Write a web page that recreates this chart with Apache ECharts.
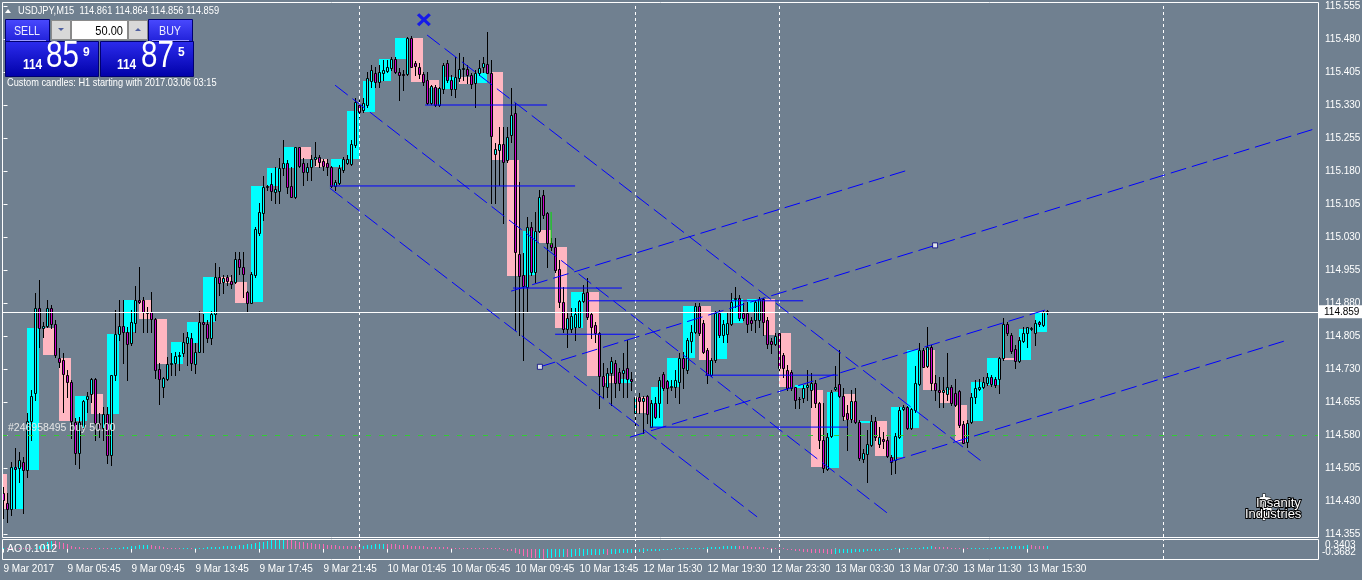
<!DOCTYPE html>
<html><head><meta charset="utf-8">
<script src="https://cdn.jsdelivr.net/npm/echarts@6/dist/echarts.min.js"></script>
<style>html,body{margin:0;padding:0;background:#708090;}#c{width:1362px;height:580px;}</style>
</head><body><div id="c"></div>
<script>
const FONT = '"Liberation Sans",Arial,sans-serif';

const timeLabels = ['9 Mar 2017','9 Mar 05:45','9 Mar 09:45','9 Mar 13:45','9 Mar 17:45','9 Mar 21:45','10 Mar 01:45','10 Mar 05:45','10 Mar 09:45','10 Mar 13:45','12 Mar 15:30','12 Mar 19:30','12 Mar 23:30','13 Mar 03:30','13 Mar 07:30','13 Mar 11:30','13 Mar 15:30'];
const timeLabelBars = [0,16,32,48,64,80,96,112,128,144,160,176,192,208,224,240,256];
const separatorBars = [89,158,194,290];
const priceTicks = [114.355,114.430,114.505,114.580,114.655,114.730,114.805,114.880,114.955,115.030,115.105,115.180,115.255,115.330,115.405,115.480,115.555];

const m15Open = [
114.448,114.425,114.412,114.507,114.505,114.519,114.500,114.612,114.675,114.869,
114.823,114.828,114.869,114.832,114.755,114.750,114.716,114.700,114.610,114.539,
114.596,114.662,114.673,114.707,114.607,114.596,114.628,114.535,114.716,114.810,
114.828,114.814,114.789,114.835,114.887,114.887,114.860,114.860,114.844,114.730,
114.689,114.707,114.741,114.744,114.759,114.766,114.789,114.800,114.741,114.768,
114.837,114.832,114.800,114.855,114.939,114.928,114.939,114.930,114.928,114.980,
114.962,114.905,114.880,114.944,115.039,115.084,115.144,115.150,115.132,115.134,
115.187,115.198,115.146,115.121,115.234,115.198,115.178,115.189,115.207,115.212,
115.203,115.198,115.189,115.146,115.153,115.182,115.198,115.196,115.239,115.330,
115.319,115.330,115.384,115.403,115.382,115.403,115.407,115.414,115.434,115.405,
115.400,115.400,115.482,115.425,115.416,115.400,115.387,115.334,115.371,115.330,
115.366,115.425,115.387,115.366,115.391,115.412,115.412,115.398,115.380,115.403,
115.416,115.423,115.403,115.218,115.228,115.241,115.205,115.262,115.312,114.991,
114.944,114.916,115.053,114.951,115.044,115.125,115.084,115.016,115.007,114.957,
114.882,114.821,114.821,114.825,114.825,114.885,114.905,114.855,114.830,114.812,
114.714,114.689,114.721,114.744,114.723,114.721,114.732,114.707,114.630,114.666,
114.657,114.669,114.598,114.653,114.653,114.719,114.703,114.689,114.689,114.700,
114.755,114.728,114.794,114.814,114.873,114.835,114.773,114.716,114.750,114.857,
114.807,114.810,114.832,114.889,114.891,114.857,114.857,114.841,114.841,114.841,
114.889,114.841,114.794,114.787,114.812,114.762,114.728,114.723,114.689,114.662,
114.664,114.689,114.682,114.698,114.653,114.569,114.503,114.578,114.684,114.696,
114.669,114.630,114.616,114.657,114.610,114.525,114.537,114.557,114.612,114.559,
114.571,114.569,114.530,114.523,114.575,114.639,114.644,114.596,114.637,114.696,
114.773,114.737,114.780,114.698,114.682,114.678,114.673,114.689,114.675,114.680,
114.605,114.564,114.610,114.666,114.684,114.689,114.698,114.712,114.707,114.707,
114.755,114.832,114.807,114.775,114.748,114.794,114.812,114.821,114.812,114.837,
114.830,114.861];
const m15High = [
114.462,114.448,114.519,114.550,114.541,114.530,114.630,114.682,114.903,114.932,
114.837,114.887,114.875,114.841,114.778,114.766,114.728,114.705,114.619,114.621,
114.660,114.678,114.710,114.710,114.630,114.644,114.644,114.591,114.864,114.887,
114.887,114.825,114.864,114.919,114.962,114.894,114.871,114.905,114.846,114.744,
114.712,114.757,114.766,114.768,114.768,114.812,114.814,114.812,114.789,114.862,
114.855,114.841,114.862,114.971,114.962,114.944,114.944,114.944,114.996,114.996,
114.996,114.907,114.951,115.052,115.107,115.169,115.148,115.175,115.189,115.209,
115.250,115.205,115.189,115.234,115.234,115.209,115.198,115.216,115.246,115.216,
115.207,115.207,115.191,115.160,115.194,115.212,115.216,115.250,115.346,115.341,
115.346,115.405,115.421,115.416,115.421,115.432,115.432,115.439,115.439,115.414,
115.410,115.485,115.487,115.430,115.425,115.405,115.405,115.375,115.375,115.371,
115.425,115.432,115.398,115.439,115.448,115.439,115.421,115.403,115.410,115.432,
115.439,115.496,115.432,115.243,115.280,115.280,115.280,115.369,115.334,115.155,
114.994,115.075,115.064,115.087,115.137,115.137,115.087,115.028,115.028,114.978,
114.916,114.857,114.869,114.869,114.887,114.921,114.937,114.860,114.837,114.814,
114.744,114.732,114.757,114.750,114.732,114.766,114.796,114.723,114.666,114.675,
114.669,114.671,114.660,114.666,114.712,114.723,114.705,114.705,114.728,114.766,
114.768,114.800,114.830,114.880,114.880,114.841,114.778,114.755,114.862,114.864,
114.841,114.857,114.903,114.916,114.898,114.880,114.882,114.848,114.887,114.894,
114.891,114.848,114.800,114.812,114.814,114.766,114.739,114.728,114.689,114.666,
114.694,114.728,114.721,114.705,114.655,114.653,114.585,114.682,114.737,114.773,
114.687,114.648,114.682,114.687,114.614,114.548,114.591,114.625,114.621,114.598,
114.587,114.575,114.535,114.585,114.644,114.648,114.646,114.641,114.737,114.789,
114.778,114.825,114.785,114.716,114.712,114.712,114.766,114.694,114.707,114.682,
114.612,114.614,114.675,114.705,114.707,114.712,114.721,114.716,114.712,114.757,
114.846,114.837,114.812,114.785,114.803,114.825,114.825,114.825,114.841,114.839,
114.862,114.864];
const m15Low = [
114.391,114.382,114.398,114.414,114.473,114.403,114.485,114.569,114.660,114.780,
114.803,114.825,114.823,114.757,114.735,114.632,114.666,114.573,114.514,114.505,
114.591,114.632,114.655,114.569,114.575,114.569,114.516,114.512,114.705,114.796,
114.744,114.705,114.785,114.814,114.880,114.814,114.814,114.814,114.710,114.650,
114.666,114.705,114.716,114.716,114.728,114.759,114.739,114.728,114.721,114.768,
114.768,114.791,114.787,114.841,114.898,114.903,114.921,114.914,114.925,114.946,
114.894,114.860,114.880,114.939,115.034,115.069,115.137,115.114,115.107,115.107,
115.171,115.130,115.121,115.119,115.189,115.148,115.160,115.160,115.194,115.189,
115.182,115.171,115.144,115.137,115.150,115.178,115.196,115.194,115.234,115.303,
115.314,115.325,115.371,115.371,115.371,115.387,115.405,115.410,115.403,115.341,
115.364,115.398,115.416,115.398,115.391,115.375,115.332,115.332,115.328,115.328,
115.357,115.382,115.353,115.348,115.384,115.387,115.380,115.369,115.325,115.398,
115.405,115.403,115.107,115.107,115.148,115.062,115.200,115.246,114.819,114.807,
114.750,114.860,114.944,114.928,115.041,115.073,114.962,115.000,114.951,114.871,
114.814,114.780,114.814,114.796,114.825,114.882,114.844,114.800,114.791,114.641,
114.666,114.666,114.648,114.666,114.682,114.666,114.666,114.682,114.602,114.630,
114.585,114.607,114.598,114.619,114.621,114.682,114.653,114.682,114.666,114.653,
114.687,114.721,114.768,114.812,114.807,114.766,114.698,114.714,114.746,114.803,
114.791,114.791,114.830,114.871,114.841,114.841,114.814,114.819,114.814,114.825,
114.807,114.778,114.766,114.785,114.728,114.712,114.682,114.682,114.641,114.641,
114.655,114.660,114.644,114.644,114.550,114.496,114.500,114.575,114.682,114.666,
114.614,114.546,114.610,114.607,114.523,114.519,114.473,114.555,114.569,114.553,
114.550,114.530,114.491,114.494,114.573,114.637,114.594,114.594,114.632,114.694,
114.735,114.735,114.682,114.660,114.644,114.644,114.660,114.648,114.646,114.598,
114.562,114.553,114.607,114.653,114.682,114.687,114.694,114.691,114.689,114.675,
114.750,114.807,114.766,114.732,114.746,114.791,114.780,114.819,114.785,114.828,
114.828,114.856];
const m15Close = [
114.432,114.412,114.507,114.503,114.523,114.500,114.612,114.669,114.869,114.823,
114.828,114.869,114.832,114.762,114.746,114.719,114.700,114.612,114.539,114.610,
114.657,114.669,114.707,114.607,114.596,114.628,114.535,114.716,114.810,114.828,
114.814,114.787,114.837,114.887,114.882,114.860,114.857,114.844,114.728,114.707,
114.710,114.741,114.744,114.759,114.762,114.791,114.803,114.744,114.768,114.837,
114.832,114.800,114.855,114.939,114.925,114.937,114.930,114.923,114.980,114.962,
114.946,114.880,114.946,115.048,115.087,115.144,115.146,115.134,115.139,115.187,
115.198,115.144,115.121,115.234,115.191,115.178,115.189,115.207,115.212,115.200,
115.191,115.189,115.146,115.155,115.187,115.207,115.207,115.241,115.337,115.314,
115.334,115.391,115.410,115.382,115.405,115.410,115.416,115.434,115.405,115.398,
115.399,115.482,115.416,115.419,115.400,115.382,115.334,115.373,115.330,115.369,
115.421,115.387,115.366,115.394,115.412,115.414,115.398,115.378,115.403,115.414,
115.425,115.403,115.260,115.230,115.241,115.200,115.257,115.307,114.996,114.941,
114.919,115.053,114.951,115.044,115.121,115.080,115.016,115.007,114.955,114.882,
114.821,114.846,114.850,114.855,114.885,114.903,114.848,114.825,114.812,114.714,
114.691,114.721,114.748,114.698,114.698,114.728,114.707,114.703,114.666,114.657,
114.664,114.628,114.653,114.621,114.705,114.687,114.687,114.691,114.705,114.755,
114.732,114.796,114.814,114.873,114.812,114.768,114.716,114.750,114.857,114.807,
114.832,114.835,114.882,114.891,114.846,114.846,114.832,114.835,114.882,114.889,
114.837,114.787,114.787,114.805,114.732,114.732,114.687,114.687,114.660,114.661,
114.687,114.694,114.698,114.653,114.569,114.505,114.575,114.678,114.689,114.669,
114.623,114.616,114.657,114.610,114.528,114.539,114.559,114.612,114.575,114.575,
114.566,114.532,114.519,114.578,114.637,114.644,114.596,114.639,114.698,114.773,
114.735,114.780,114.698,114.682,114.678,114.682,114.689,114.653,114.648,114.603,
114.562,114.607,114.666,114.687,114.689,114.700,114.712,114.696,114.694,114.755,
114.832,114.812,114.771,114.748,114.796,114.812,114.825,114.823,114.835,114.832,
114.860,114.859];

// custom H1 candles (first one starts 2 bars before the first visible M15 bar)
const h1FirstBar = -2;
const h1Open = [
114.491,114.412,114.500,114.823,114.755,114.612,114.673,114.628,114.814,114.887,
114.844,114.741,114.789,114.837,114.939,114.928,114.882,115.146,115.187,115.234,
115.207,115.189,115.207,115.314,115.384,115.434,115.482,115.387,115.366,115.394,
115.380,115.405,115.205,114.944,115.046,115.007,114.823,114.905,114.714,114.698,
114.666,114.598,114.689,114.755,114.873,114.753,114.835,114.857,114.889,114.812,
114.687,114.682,114.505,114.673,114.607,114.612,114.530,114.596,114.773,114.682,
114.648,114.612,114.694,114.755,114.750,114.814];
const h1Close = [
114.412,114.507,114.823,114.762,114.612,114.669,114.628,114.810,114.887,114.844,
114.741,114.791,114.837,114.939,114.925,114.880,115.146,115.187,115.234,115.207,
115.189,115.207,115.316,115.384,115.434,115.482,115.382,115.369,115.394,115.378,
115.403,115.205,114.941,115.044,115.016,114.823,114.905,114.714,114.698,114.707,
114.630,114.689,114.755,114.873,114.750,114.857,114.889,114.889,114.807,114.689,
114.694,114.507,114.678,114.614,114.612,114.532,114.644,114.773,114.682,114.653,
114.564,114.700,114.755,114.750,114.821,114.857];

const ao = [
0,0,0,0,0,0,0,0,0.02,0.08,
0.15,0.22,0.28,
0.27,0.24,0.2,0.15,0.1,0.07,0.05,0.03,
0.02,0.015,0.01,0.02,0.01,0.005,0.01,0.02,
0.03,0.04,0.06,0.08,0.1,0.12,0.13,0.14,
0.12,0.1,0.08,0.05,
0.03,0.02,0.01,0.005,0.01,0.015,
0.01,0.015,0.02,0.03,0.04,0.05,0.06,0.07,0.08,
0.09,0.1,0.11,0.12,0.14,0.16,0.18,0.2,
0.22,0.25,0.28,0.3,0.31,0.32,0.33,
0.31,0.29,0.27,0.25,0.23,0.21,0.2,0.18,0.17,0.15,
0.14,0.13,0.12,0.11,0.1,0.09,0.088,0.085,0.08,
0.1,0.12,0.14,0.16,0.17,0.18,
0.17,0.16,0.15,0.14,0.13,0.12,0.11,0.1,0.09,0.08,0.07,0.06,0.055,0.05,0.045,0.04,0.035,0.03,0.025,0.02,0.015,0.01,
0.008,0.005,0.002,0.0,
-0.01,-0.02,-0.03,-0.05,-0.07,-0.1,
-0.14,-0.2,-0.25,-0.3,-0.33,-0.35,-0.34,-0.36,
-0.34,-0.32,-0.31,-0.3,-0.29,-0.3,-0.28,-0.27,-0.26,-0.25,-0.24,-0.23,-0.22,-0.21,-0.2,-0.21,-0.19,-0.18,-0.17,-0.16,-0.15,-0.14,
-0.13,-0.12,-0.11,-0.1,-0.09,-0.08,-0.07,-0.06,-0.05,-0.04,-0.03,-0.02,
-0.01,0.0,0.01,0.02,0.03,0.035,0.04,0.05,0.06,0.07,0.08,0.09,0.1,0.105,
0.1,0.09,0.08,0.07,0.06,0.05,0.04,0.03,0.02,0.01,0.0,
-0.02,-0.04,-0.06,-0.08,-0.1,-0.12,-0.13,-0.14,-0.15,-0.16,-0.17,-0.18,-0.19,
-0.18,-0.17,-0.16,-0.15,-0.14,-0.13,-0.12,-0.11,-0.1,-0.09,-0.08,-0.07,-0.06,-0.05,-0.04,-0.03,-0.02,
-0.01,0.0,0.01,0.02,0.03,0.05,0.07,0.08,
0.07,0.06,0.05,0.04,0.03,0.02,0.01,0.0,
-0.005,0.0,0.002,0.01,0.012,0.02,
0.03,0.04,0.05,0.06,0.07,0.08,0.09,0.1,0.11,0.12,0.115,0.11,0.105,0.1,0.1012];
const aoScale = [0.3403, -0.3682];

const bidPrice = 114.859;
const askPrice = 114.875;
const orderPrice = 114.585;
const orderText = '#246958495 buy 50.00';
const lotSize = '50.00';

// trend objects: [barIndex, price] pairs
const dashedLines = [
  [[105.9,115.489],[245.4,114.514]],
  [[82.9,115.375],[221.6,114.398]],
  [[81.6,115.141],[188.4,114.394]],
  [[126.9,114.907],[226.1,115.182]],
  [[134.1,114.735],[328.6,115.278]],
  [[156.6,114.575],[260.4,114.864]],
  [[221.6,114.519],[321.1,114.796]]
];
const solidLines = [
  [[105.4,115.330],[135.9,115.330]],
  [[81.6,115.146],[142.9,115.146]],
  [[127.4,114.914],[154.6,114.914]],
  [[146.1,114.885],[199.9,114.885]],
  [[137.9,114.809],[157.9,114.809]],
  [[175.4,114.716],[208.6,114.716]],
  [[161.6,114.598],[211.1,114.598]]
];
const anchorPoints = [[134.1,114.735],[232.9,115.011]];
const crossPoint = [[105.1,115.524]];
const greenMark = [[136.9,115.087],[136.9,115.012]];

// ---------------------------------------------------------------
const X_MIN = -0.375, X_MAX = 328.625;
const Y_MAX = 115.5641, Y_MIN = 114.3482;
const BULL = '#00ffff', BEAR = '#cc00cc';

const chart = echarts.init(document.getElementById('c'), null, {renderer:'canvas', width:1362, height:580});

const candleData = m15Open.map((o,i)=>[i,o,m15Close[i],m15Low[i],m15High[i]]);
const h1Data = h1Open.map((o,k)=>[h1FirstBar+4*k,o,h1Close[k]]);
const aoData = ao.map((v,i)=>[i,v,(i===0||v>ao[i-1])?1:0]);

function renderCandle(params, api){
  const i=api.value(0), o=api.value(1), c=api.value(2), l=api.value(3), h=api.value(4);
  const po=api.coord([i,o]), pc=api.coord([i,c]), pl=api.coord([i,l]), ph=api.coord([i,h]);
  const x=Math.floor(po[0])+0.5;
  const yTop=Math.round(Math.min(po[1],pc[1])), yBot=Math.round(Math.max(po[1],pc[1]));
  return {type:'group', children:[
    {type:'line', shape:{x1:x,y1:Math.round(ph[1]),x2:x,y2:Math.round(pl[1])+1}, style:{stroke:'#000',lineWidth:1}},
    {type:'rect', shape:{x:x-1,y:yTop+0.5,width:2,height:Math.max(yBot-yTop,0)}, style:{fill:c>=o?BULL:BEAR, stroke:'#000', lineWidth:1}}
  ]};
}
function renderH1(params, api){
  const b=api.value(0), o=api.value(1), c=api.value(2);
  const p1=api.coord([b,o]), p2=api.coord([b+3,c]);
  const x1=Math.floor(p1[0]), x2=Math.floor(p2[0]);
  const y1=Math.round(Math.min(p1[1],p2[1])), y2=Math.round(Math.max(p1[1],p2[1]));
  return {type:'rect', shape:{x:x1,y:y1,width:x2-x1,height:Math.max(y2-y1,1)}, style:{fill:c>=o?'#00ffff':'#ffb6c1'}};
}
function renderAO(params, api){
  const i=api.value(0), v=api.value(1), up=api.value(2);
  const p0=api.coord([i,0]), p1=api.coord([i,v]);
  const x=Math.floor(p0[0])+0.5;
  let y0=Math.round(p0[1]), y1=Math.round(p1[1]);
  if (y0===y1) y1 = y0-1;
  return {type:'line', shape:{x1:x,y1:y0,x2:x,y2:y1}, style:{stroke:up?'#00ffff':'#ff69b4', lineWidth:1}};
}

const series = [];
series.push({type:'custom', name:'H1', xAxisIndex:0, yAxisIndex:0, renderItem:renderH1, data:h1Data, clip:true, z:1, silent:true});
series.push({type:'line', name:'marks', xAxisIndex:0, yAxisIndex:0, data:[], z:2, silent:true,
  markLine:{silent:true, symbol:['none','none'], animation:false,
    data:[
      ...separatorBars.map(b=>({xAxis:b, lineStyle:{color:'#ffffff', width:1, type:[3,3]}, label:{show:false}})),
      {yAxis:orderPrice, lineStyle:{color:'#32cd32', width:1, type:[5,8]},
       label:{show:true, position:'insideStartTop', formatter:orderText, color:'#e6e6e6', fontFamily:FONT, fontSize:10.5, distance:[6,1]}}
    ]}});
series.push({type:'custom', name:'M15', xAxisIndex:0, yAxisIndex:0, renderItem:renderCandle, data:candleData, clip:true, z:3, silent:true});
dashedLines.forEach(seg=>series.push({type:'line', xAxisIndex:0, yAxisIndex:0, data:seg, symbol:'none', silent:true, z:5, animation:false, lineStyle:{color:'#0000ff', width:1, type:[16,6]}}));
solidLines.forEach(seg=>series.push({type:'line', xAxisIndex:0, yAxisIndex:0, data:seg, symbol:'none', silent:true, z:5, animation:false, lineStyle:{color:'#0000ff', width:1}}));
series.push({type:'line', xAxisIndex:0, yAxisIndex:0, data:greenMark, symbol:'none', silent:true, z:5, lineStyle:{color:'#00e000', width:1}});
series.push({type:'scatter', xAxisIndex:0, yAxisIndex:0, data:anchorPoints, symbol:'rect', symbolSize:5, silent:true, z:6, itemStyle:{color:'#ffffff', borderColor:'#000080', borderWidth:1}});
series.push({type:'scatter', xAxisIndex:0, yAxisIndex:0, data:crossPoint, silent:true, z:6,
  symbol:'path://M2,0 L6,4 L10,0 L12,2 L8,6 L12,10 L10,12 L6,8 L2,12 L0,10 L4,6 L0,2 Z', symbolSize:[14,13], itemStyle:{color:'#0000ff'}});
series.push({type:'line', name:'bid', xAxisIndex:0, yAxisIndex:0, data:[], z:8, silent:true,
  markLine:{silent:true, symbol:['none','none'], animation:false,
    data:[{yAxis:bidPrice, lineStyle:{color:'#ffffff', width:1, type:'solid'},
      label:{show:true, position:'end', formatter:bidPrice.toFixed(3), color:'#000', backgroundColor:'#ffffff', padding:[2,5,1,5], fontFamily:FONT, fontSize:10, distance:1}}]}});
series.push({type:'custom', name:'AO', xAxisIndex:1, yAxisIndex:1, renderItem:renderAO, data:aoData, clip:true, z:3, silent:true});
series.push({type:'line', name:'aomarks', xAxisIndex:1, yAxisIndex:1, data:[], z:2, silent:true,
  markLine:{silent:true, symbol:['none','none'], animation:false,
    data:separatorBars.map(b=>({xAxis:b, lineStyle:{color:'#ffffff', width:1, type:[3,3]}, label:{show:false}}))}});

const last = m15Open.length-1;
const header = 'USDJPY,M15  ' + [m15Open[last],m15High[last],m15Low[last],m15Close[last]].map(v=>v.toFixed(3)).join(' ');
function bigParts(p){ const s=p.toFixed(3); return [s.slice(0,3), s.slice(4,6), s.slice(6)]; }
const sellP = bigParts(bidPrice), buyP = bigParts(askPrice);
const btnGrad = new echarts.graphic.LinearGradient(0,0,0,1,[{offset:0,color:'#4a4aff'},{offset:1,color:'#2020d8'}]);
const boxGrad = new echarts.graphic.LinearGradient(0,0,0,1,[{offset:0,color:'#2c2cee'},{offset:1,color:'#0000a8'}]);
function txt(x,y,text,opt,extra){
  return Object.assign({type:'text', x, y, silent:true, z:62,
    style:Object.assign({text, fill:'#ffffff', font:'10px '+FONT, textVerticalAlign:'middle'}, opt||{})}, extra||{});
}

const graphic = [
  {type:'rect', silent:true, z:50, shape:{x:2.5,y:2.5,width:1316,height:535}, style:{fill:null, stroke:'#ffffff', lineWidth:1}},
  {type:'rect', silent:true, z:50, shape:{x:2.5,y:539.5,width:1316,height:20}, style:{fill:null, stroke:'#ffffff', lineWidth:1}},
  {type:'polygon', silent:true, z:60, shape:{points:[[5,13],[8,9],[11,13]]}, style:{fill:'#ffffff'}},
  txt(18,11,header,{font:'11.5px '+FONT},{scaleX:0.81}),
  // one-click panel
  {type:'rect', silent:true, z:60, shape:{x:5.5,y:19.5,width:44,height:22}, style:{fill:btnGrad, stroke:'#000070', lineWidth:1}},
  {type:'line', silent:true, z:61, shape:{x1:10,y1:40.5,x2:46,y2:40.5}, style:{stroke:'#9a9aff', lineWidth:1}},
  txt(27,31,'SELL',{font:'13px '+FONT, textAlign:'center', fill:'#eeeeff'},{scaleX:0.82}),
  {type:'rect', silent:true, z:60, shape:{x:51.5,y:20.5,width:19,height:19}, style:{fill:'#d8d8d8', stroke:'#8a8a8a', lineWidth:1}},
  {type:'polygon', silent:true, z:61, shape:{points:[[58,28],[64,28],[61,31]]}, style:{fill:'#5060a0'}},
  {type:'rect', silent:true, z:60, shape:{x:71.5,y:20.5,width:56,height:19}, style:{fill:'#ffffff', stroke:'#8a8a8a', lineWidth:1}},
  txt(123,31,lotSize,{font:'13px '+FONT, textAlign:'right', fill:'#000000'},{scaleX:0.85}),
  {type:'rect', silent:true, z:60, shape:{x:128.5,y:20.5,width:19,height:19}, style:{fill:'#d8d8d8', stroke:'#8a8a8a', lineWidth:1}},
  {type:'polygon', silent:true, z:61, shape:{points:[[135,31],[141,31],[138,28]]}, style:{fill:'#5060a0'}},
  {type:'rect', silent:true, z:60, shape:{x:148.5,y:19.5,width:44,height:22}, style:{fill:btnGrad, stroke:'#000070', lineWidth:1}},
  {type:'line', silent:true, z:61, shape:{x1:152,y1:40.5,x2:189,y2:40.5}, style:{stroke:'#9a9aff', lineWidth:1}},
  txt(170,31,'BUY',{font:'13px '+FONT, textAlign:'center', fill:'#eeeeff'},{scaleX:0.82}),
  {type:'rect', silent:true, z:60, shape:{x:5.5,y:41.5,width:93,height:35}, style:{fill:boxGrad, stroke:'#000070', lineWidth:1}},
  {type:'rect', silent:true, z:60, shape:{x:100.5,y:41.5,width:93,height:35}, style:{fill:boxGrad, stroke:'#000070', lineWidth:1}},
  txt(23,65.5,sellP[0],{font:'bold 14px '+FONT},{scaleX:0.85}),
  txt(46,57,sellP[1],{font:'36px '+FONT},{scaleX:0.82}),
  txt(83,52.5,sellP[2],{font:'bold 12px '+FONT}),
  txt(117,65.5,buyP[0],{font:'bold 14px '+FONT},{scaleX:0.85}),
  txt(141,57,buyP[1],{font:'36px '+FONT},{scaleX:0.82}),
  txt(178,52.5,buyP[2],{font:'bold 12px '+FONT}),
  txt(7,83,'Custom candles: H1 starting with 2017.03.06 03:15',{font:'10.5px '+FONT},{scaleX:0.88}),
  // AO window texts
  txt(7,549,'AO ' + ao[ao.length-1].toFixed(4),{font:'10.5px '+FONT}),
  txt(1325,545,aoScale[0].toFixed(4),{font:'10px '+FONT}),
  txt(1322,552,aoScale[1].toFixed(4),{font:'10px '+FONT}),
  // logo
  txt(1264,509,'$',{font:'bold 28px "DejaVu Sans",sans-serif', textAlign:'center', fill:'#ffffff', stroke:'#000000', lineWidth:1},{z:70}),
  txt(1256,503,'Insanity',{font:'13px '+FONT, fill:'#ffffff', stroke:'#000000', lineWidth:2},{z:71}),
  txt(1245,514,'Industries',{font:'13px '+FONT, fill:'#ffffff', stroke:'#000000', lineWidth:2},{z:71})
];

const option = {
  backgroundColor:'#708090',
  animation:false,
  grid:[
    {left:2, top:2, width:1316, height:535, show:false, containLabel:false, outerBoundsMode:'none'},
    {left:2, top:539, width:1316, height:20, show:false, containLabel:false, outerBoundsMode:'none'}
  ],
  xAxis:[
    {gridIndex:0, type:'value', min:X_MIN, max:X_MAX, show:false},
    {gridIndex:1, type:'value', min:X_MIN, max:X_MAX,
      axisLine:{show:false}, splitLine:{show:false},
      axisTick:{show:true, customValues:timeLabelBars, length:4, lineStyle:{color:'#ffffff'}},
      axisLabel:{show:true, customValues:timeLabelBars, formatter:v=>timeLabels[timeLabelBars.indexOf(v)], align:'left', color:'#ffffff', fontFamily:FONT, fontSize:10, margin:5, hideOverlap:false}}
  ],
  yAxis:[
    {gridIndex:0, type:'value', position:'right', min:Y_MIN, max:Y_MAX,
      axisLine:{show:false}, splitLine:{show:false},
      axisTick:{show:true, customValues:priceTicks, length:4, lineStyle:{color:'#ffffff'}},
      axisLabel:{show:true, customValues:priceTicks, formatter:v=>v.toFixed(3), color:'#ffffff', fontFamily:FONT, fontSize:10, margin:7, hideOverlap:false}},
    {gridIndex:1, type:'value', position:'right', min:aoScale[1], max:aoScale[0], show:false}
  ],
  series,
  graphic
};
chart.setOption(option);
</script></body></html>
